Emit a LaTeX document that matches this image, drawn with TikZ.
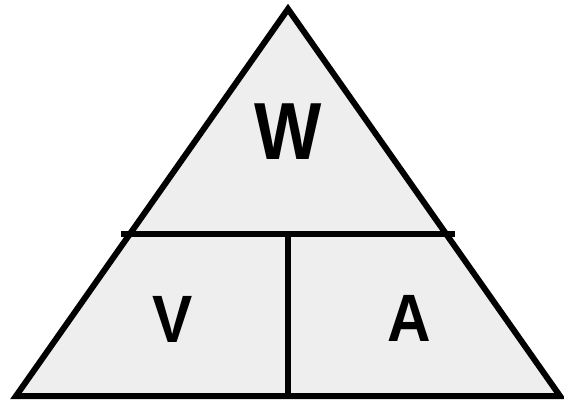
\documentclass[tikz,border=0pt]{standalone}
\usepackage{fontspec}
\setmainfont{Liberation Sans}
\definecolor{trifill}{HTML}{EEEEEE}
\tikzset{
  outline/.style={draw=black, line width=6pt, line join=miter},
  divider/.style={draw=black, line width=6pt, line cap=butt},
  bigletter/.style={inner sep=0pt, font=\bfseries\fontsize{81}{81}\selectfont},
  smallletter/.style={inner sep=0pt, font=\bfseries\fontsize{67}{67}\selectfont}
}
\begin{document}
\begin{tikzpicture}[x=1pt, y=-1pt]
\useasboundingbox (0,0) rectangle (564,400);
\coordinate (apex) at (288,9);
\coordinate (bl) at (16,396);
\coordinate (br) at (560,396);
\coordinate (hl) at (121,233.5);
\coordinate (hr) at (455,233.5);
\coordinate (vt) at (288,233.5);
\coordinate (vb) at (288,396);
\fill[trifill] (apex) -- (bl) -- (br) -- cycle;
\draw[divider] (hl) -- (hr);
\draw[divider] (vt) -- (vb);
\draw[outline] (apex) -- (bl) -- (br) -- cycle;
\node[bigletter] (w) at (288,132) {\scalebox{0.88}[1]{W}};
\node[smallletter] (v) at (172.5,319) {\scalebox{0.9}[1]{V}};
\node[smallletter] (a) at (409,318.5) {\scalebox{0.9}[1]{A}};
\end{tikzpicture}
\end{document}
